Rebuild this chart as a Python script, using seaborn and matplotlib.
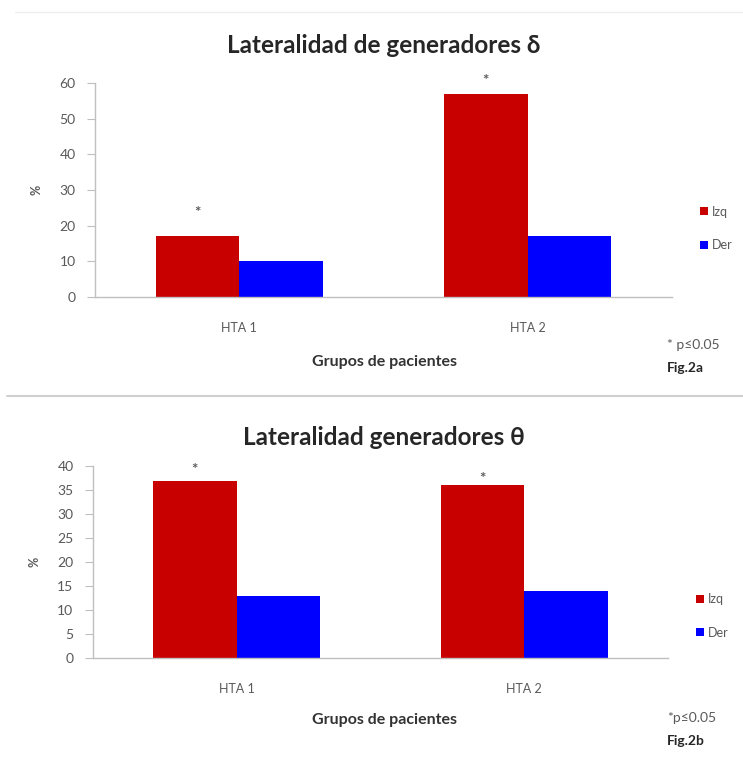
import pandas as pd
import matplotlib.pyplot as plt
import seaborn as sns
from matplotlib.lines import Line2D
from matplotlib.patches import Patch

# values
grupos = ["HTA 1", "HTA 2"]
lados = ["Izq", "Der"]
delta_izq = [17, 57]
delta_der = [10, 17]
theta_izq = [37, 36]
theta_der = [13, 14]
# where the significance stars sit (y in data units)
delta_star = [23.5, 60.5]
theta_star = [39.2, 37.3]

sns.set_theme(style="white")
plt.rcParams['font.family'] = ['Lato', 'DejaVu Sans']

colores = {"Izq": "#C80000", "Der": "#0000FF"}
gris = "#595959"


def tabla(izq, der):
    return pd.DataFrame({
        "grupo": grupos * 2,
        "lado": ["Izq"] * 2 + ["Der"] * 2,
        "valor": izq + der,
    })


def panel(ax, df, titulo, ymax, paso, stars, nota, fig_lbl, title_y, xlab_y, nota_y, leg_y):
    sns.barplot(data=df, x="grupo", y="valor", hue="lado", hue_order=lados,
                palette=colores, width=0.58, saturation=1, linewidth=0,
                edgecolor="none", ax=ax, legend=False)
    ax.set_xlim(-0.5, 1.5)
    ax.set_ylim(0, ymax)
    ax.set_yticks(range(0, ymax + 1, paso))
    ax.tick_params(axis="y", length=6, width=0.8, color="#BFBFBF",
                   labelsize=10, labelcolor=gris, pad=8, left=True)
    ax.tick_params(axis="x", length=0, labelsize=9, labelcolor=gris, pad=18)
    for s in ["top", "right"]:
        ax.spines[s].set_visible(False)
    for s in ["left", "bottom"]:
        ax.spines[s].set_color("#BFBFBF")
        ax.spines[s].set_linewidth(1.0)
    ax.set_xlabel("")
    ax.set_ylabel("%", fontsize=9, fontweight="bold", color=gris, labelpad=12)
    for i, y in enumerate(stars):
        ax.text(i - 0.145, y, "*", ha="center", va="center", fontsize=11,
                fontweight="bold", color=gris)
    fig.text(0.517, title_y, titulo, ha="center", va="center",
             fontsize=17.5, fontweight="bold", color="#262626")
    fig.text(0.517, xlab_y, "Grupos de pacientes", ha="center", va="center",
             fontsize=11.5, fontweight="bold", color="#333333")
    fig.text(0.898, nota_y, nota, ha="left", va="center", fontsize=10, color=gris)
    fig.text(0.898, nota_y - 0.03, fig_lbl, ha="left", va="center",
             fontsize=10, fontweight="bold", color="#262626")
    handles = [Patch(facecolor=colores[l], edgecolor="none") for l in lados]
    ax.legend(handles, lados, loc="center left", bbox_to_anchor=(1.03, leg_y),
              frameon=False, fontsize=9, labelcolor=gris, handlelength=0.6,
              handleheight=0.6, handletextpad=0.3, labelspacing=1.7)


fig = plt.figure(figsize=(7.43, 7.77), dpi=100)
ax1 = fig.add_axes([0.128, 0.618, 0.776, 0.275])
ax2 = fig.add_axes([0.125, 0.153, 0.774, 0.247])

panel(ax1, tabla(delta_izq, delta_der), "Lateralidad de generadores δ", 60, 10,
      delta_star, "* p≤0.05", "Fig.2a", 0.942, 0.534, 0.556, 0.32)
panel(ax2, tabla(theta_izq, theta_der), "Lateralidad generadores θ", 40, 5,
      theta_star, "*p≤0.05", "Fig.2b", 0.437, 0.073, 0.076, 0.22)

# thin separator lines of the original layout
fig.add_artist(Line2D([0.02, 1.0], [0.985, 0.985], color="#EEEEEE", lw=1))
fig.add_artist(Line2D([0.01, 1.0], [0.49, 0.49], color="#D0D0D0", lw=1.5))

fig.savefig("out.png", dpi=100, facecolor="white")
